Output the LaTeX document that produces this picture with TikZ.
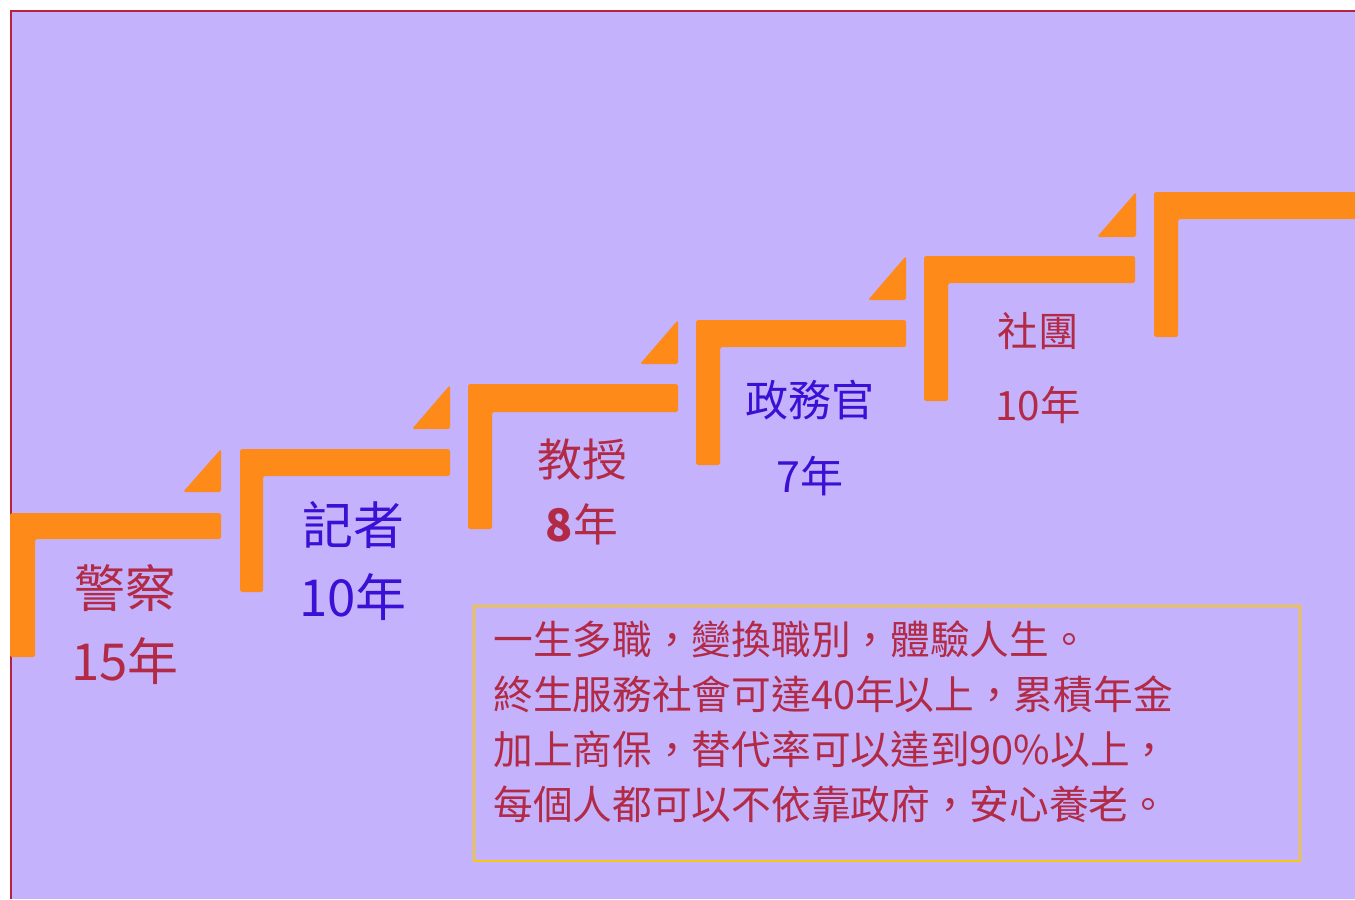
\documentclass[tikz,border=0pt]{standalone}
\usepackage{fontspec}
\setmainfont{Noto Sans CJK TC}
\usepackage{tikz}

\definecolor{lavender}{HTML}{C4B2FC}
\definecolor{stairorange}{HTML}{FD8A19}
\definecolor{labelred}{HTML}{B22A45}
\definecolor{labelblue}{HTML}{3B10D5}
\definecolor{frameyellow}{HTML}{F9C80E}
\definecolor{framered}{HTML}{B52340}

\begin{document}
\begin{tikzpicture}[x=0.02cm,y=-0.02cm,
	stair/.style={fill=stairorange, rounded corners=1pt},
	redlabel/.style={text=labelred, font=\fontsize{29}{30}\selectfont, inner sep=0pt},
	bluelabel/.style={text=labelblue, font=\fontsize{29}{30}\selectfont, inner sep=0pt}
	]
	\useasboundingbox (0,0) rectangle (1355,899);
	\fill[white] (0,0) rectangle (1355,899);
	\fill[lavender] (11,11) rectangle (1355,899);
	\draw[framered, line width=1.2pt] (11,899) -- (11,11) -- (1355,11);
	
	% steps
	\fill[stair] (10,513) -- (221,513) -- (221,539) -- (35,539) -- (35,657) -- (10,657) -- cycle;
	\fill[stair] (183,492) -- (221,492) -- (221,449) -- cycle;
	\fill[stair] (240,449) -- (450,449) -- (450,476) -- (263,476) -- (263,592) -- (240,592) -- cycle;
	\fill[stair] (412,429) -- (450,429) -- (450,385) -- cycle;
	\fill[stair] (468,384) -- (678,384) -- (678,412) -- (492,412) -- (492,529) -- (468,529) -- cycle;
	\fill[stair] (640,364) -- (678,364) -- (678,320) -- cycle;
	\fill[stair] (696,320) -- (906,320) -- (906,347) -- (720,347) -- (720,465) -- (696,465) -- cycle;
	\fill[stair] (868,300) -- (906,300) -- (906,256) -- cycle;
	\fill[stair] (924,256) -- (1135,256) -- (1135,283) -- (948,283) -- (948,401) -- (924,401) -- cycle;
	\fill[stair] (1097,237) -- (1136,237) -- (1136,192) -- cycle;
	\fill[stair] (1154,192) -- (1360,192) -- (1360,219) -- (1178,219) -- (1178,337) -- (1154,337) -- cycle;
	
	% jobs
	\node[redlabel] (police) at (125,588) {警察};
	\node[redlabel] (policeyears) at (125,661) {15年};
	\node[bluelabel] (reporter) at (353,525) {記者};
	\node[bluelabel] (reporteryears) at (353,597) {10年};
	\node[redlabel, font=\fontsize{25.5}{27}\selectfont] (professor) at (582,460) {教授};
	\node[redlabel, font=\fontsize{25.5}{27}\selectfont] (professoryears) at (582,524) {\textbf{8}年};
	\node[bluelabel, font=\fontsize{24.5}{26}\selectfont] (official) at (810,400) {政務官};
	\node[bluelabel, font=\fontsize{24.5}{26}\selectfont] (officialyears) at (810,476) {7年};
	\node[redlabel, font=\fontsize{23}{25}\selectfont] (club) at (1038,331) {社團};
	\node[redlabel, font=\fontsize{23}{25}\selectfont] (clubyears) at (1038,405) {10年};
	
	% summary
	\draw[frameyellow, line width=1.2pt] (474,606) rectangle (1300,861);
	\node[anchor=north west, align=left, inner sep=0pt, text=labelred,
		font=\fontsize{22.6}{31.3}\selectfont] (summary) at (493,620)
		{一生多職，變換職別，體驗人生。\\
		終生服務社會可達40年以上，累積年金\\
		加上商保，替代率可以達到90\%以上，\\
		每個人都可以不依靠政府，安心養老。};
\end{tikzpicture}
\end{document}
